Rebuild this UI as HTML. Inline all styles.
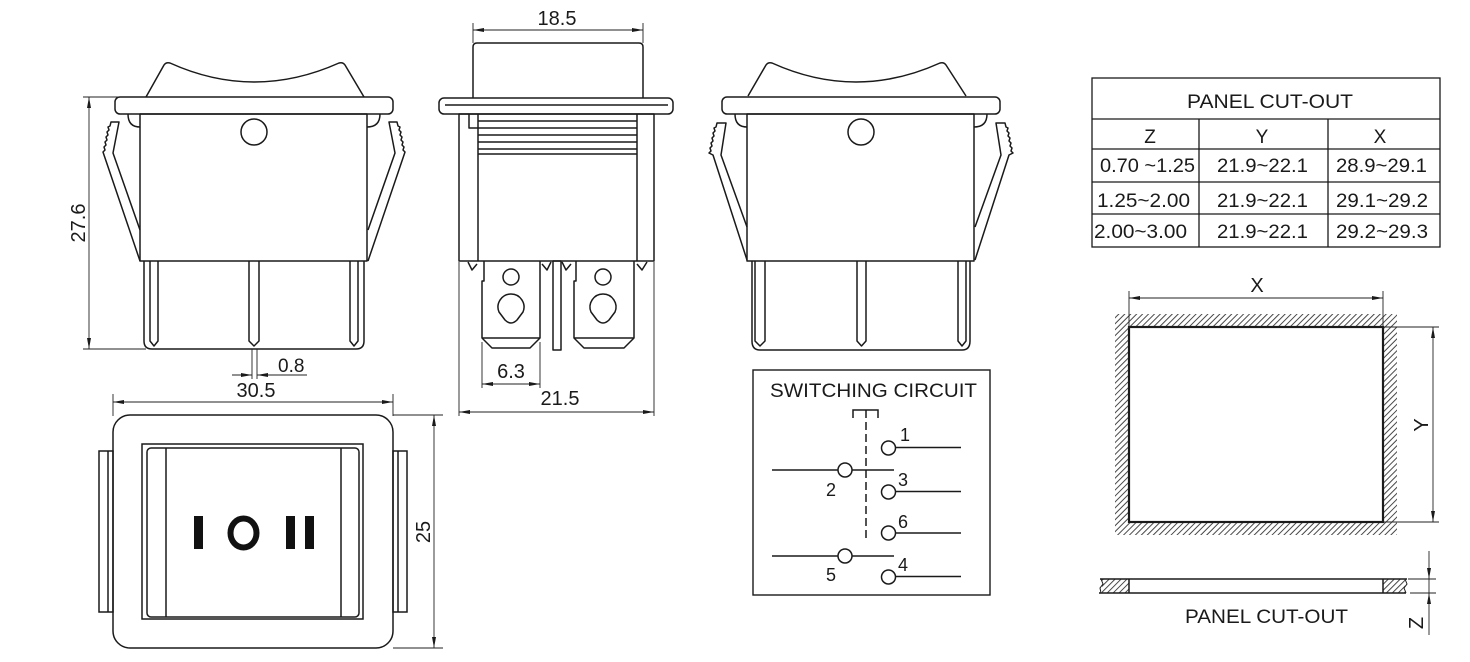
<!DOCTYPE html>
<html><head><meta charset="utf-8"><style>
html,body{margin:0;padding:0;background:#fff;}
svg{display:block;}
text{font-family:"Liberation Sans",Arial,sans-serif;fill:#1a1a1a;}
</style></head><body>
<svg width="1470" height="662" viewBox="0 0 1470 662" xmlns="http://www.w3.org/2000/svg">
<defs>
<marker id="a" viewBox="0 0 11 4" refX="11" refY="2" markerWidth="11" markerHeight="4" orient="auto-start-reverse" markerUnits="userSpaceOnUse"><path d="M0,0 L11,2 L0,4 Z" fill="#1a1a1a"/></marker>
<pattern id="h" patternUnits="userSpaceOnUse" width="4.2" height="4.2" patternTransform="rotate(45)"><line x1="1" y1="-1" x2="1" y2="6" stroke="#333" stroke-width="0.9"/></pattern>
</defs>
<rect width="1470" height="662" fill="#fff"/>

<!-- ============ LEFT FRONT VIEW ============ -->
<g fill="none" stroke="#1a1a1a" stroke-width="1.5" stroke-linejoin="round">
<path d="M146,97 L164,65 Q166,62 170,63 Q254,101 339,63 Q343,62 345,65 L364,97"/>
<rect x="115" y="97" width="278" height="17" rx="5"/>
<rect x="140" y="114" width="227" height="147"/>
<circle cx="254" cy="132" r="13"/>
<path d="M128,114 Q128,127 140,127 M380,114 Q380,127 367,127"/>
<path d="M140,230 L113,153 L119,122 L111,122 L110,126 L108,127 L109,130 L107,132 L108,135 L106,137 L107,140 L105,142 L106,145 L104,147 L105,150 L103,152 L104,155 L140,261"/>
<path d="M368,230 L395,153 L389,122 L397,122 L398,126 L400,127 L399,130 L401,132 L400,135 L402,137 L401,140 L403,142 L402,145 L404,147 L403,150 L405,152 L404,155 L368,261"/>
<path d="M144,261 V341 Q144,349 152,349 H356 Q364,349 364,341 V261"/>
<path d="M150,261 V341 L154,346 L158,341 V261 M249,261 V341 L254,346 L259,341 V261 M350,261 V341 L354,346 L358,341 V261"/>
</g>
<!-- dims left view -->
<g fill="none" stroke="#222" stroke-width="0.9">
<path d="M83,97 H118 M83,349 H146"/>
<path d="M89,97 V349" marker-start="url(#a)" marker-end="url(#a)"/>
<path d="M252,349 V379 M257,349 V379"/>
<path d="M232,375 H252" marker-end="url(#a)"/>
<path d="M307,375 H257" marker-end="url(#a)"/>
<path d="M113,394 V416 M393,394 V416"/>
<path d="M113,402 H393" marker-start="url(#a)" marker-end="url(#a)"/>
</g>
<text x="0" y="0" font-size="20" text-anchor="middle" transform="translate(85,223) rotate(-90)">27.6</text>
<text x="278" y="372" font-size="19">0.8</text>
<text x="256" y="397" font-size="20" text-anchor="middle">30.5</text>

<!-- ============ BOTTOM LEFT TOP VIEW ============ -->
<g fill="none" stroke="#1a1a1a" stroke-width="1.5">
<rect x="113" y="415" width="280" height="233" rx="17"/>
<rect x="142" y="444" width="221" height="175"/>
<rect x="147" y="448" width="212" height="169" rx="4"/>
<path d="M166,448 V617 M341,448 V617"/>
<rect x="99" y="451" width="14" height="161"/>
<path d="M108,451 V612"/>
<rect x="393" y="451" width="14" height="161"/>
<path d="M398,451 V612"/>
</g>
<g fill="#111">
<rect x="194" y="516" width="9" height="33"/>
<rect x="286" y="516" width="9" height="33"/>
<rect x="305" y="516" width="9" height="33"/>
</g>
<ellipse cx="243.5" cy="533" rx="13" ry="14.5" fill="none" stroke="#111" stroke-width="6"/>
<g fill="none" stroke="#222" stroke-width="0.9">
<path d="M393,415 H443 M393,648 H443"/>
<path d="M434,415 V648" marker-start="url(#a)" marker-end="url(#a)"/>
</g>
<text x="0" y="0" font-size="20" text-anchor="middle" transform="translate(430,532) rotate(-90)">25</text>

<!-- ============ MIDDLE SIDE VIEW ============ -->
<g fill="none" stroke="#1a1a1a" stroke-width="1.5" stroke-linejoin="round">
<path d="M473,98 V47 Q473,43 477,43 H639 Q643,43 643,47 V98"/>
<rect x="439" y="98" width="234" height="16" rx="5"/>
<path d="M445,105 H668"/>
<rect x="459" y="114" width="195" height="147"/>
<path d="M478,114 V261 M637,114 V261 M469,114 V128 H478"/>
<path d="M478,121 H637 M478,128 H637 M478,135 H637 M478,142 H637 M478,149 H637 M478,154 H637"/>
<path d="M468,262 L472,270 L477,264 M542,264 L547,270 L551,262 M562,262 L566,270 L571,264 M637,264 L642,270 L647,262"/>
<path d="M484,261 V281 H482 V338 L492,348 H530 L540,338 V261"/>
<path d="M482,338 H540"/>
<circle cx="511" cy="277" r="8"/>
<path d="M505,320 Q511,326 517,320 L523,312 A13,13 0 1,0 499,312 Z"/>
<path d="M576,261 V281 H574 V338 L584,348 H624 L634,338 V261"/>
<path d="M574,338 H634"/>
<circle cx="603" cy="277" r="8"/>
<path d="M597,320 Q603,326 609,320 L615,312 A13,13 0 1,0 591,312 Z"/>
<rect x="553" y="261" width="8" height="89"/>
</g>
<g fill="none" stroke="#222" stroke-width="0.9">
<path d="M473,23 V43 M643,23 V43"/>
<path d="M473,30 H643" marker-start="url(#a)" marker-end="url(#a)"/>
<path d="M482,342 V388 M540,342 V388"/>
<path d="M482,384 H540" marker-start="url(#a)" marker-end="url(#a)"/>
<path d="M459,262 V416 M654,262 V416"/>
<path d="M459,412 H654" marker-start="url(#a)" marker-end="url(#a)"/>
</g>
<text x="557" y="25" font-size="20" text-anchor="middle">18.5</text>
<text x="511" y="378" font-size="20" text-anchor="middle">6.3</text>
<text x="560" y="405" font-size="20" text-anchor="middle">21.5</text>

<!-- ============ RIGHT FRONT VIEW ============ -->
<g fill="none" stroke="#1a1a1a" stroke-width="1.5" stroke-linejoin="round">
<path d="M748,96 L766,65 Q768,62 772,63 Q856,101 940,63 Q944,62 946,65 L966,96"/>
</g>
<g fill="none" stroke="#1a1a1a" stroke-width="1.5" stroke-linejoin="round" transform="translate(607,0)">
<rect x="115" y="97" width="278" height="17" rx="5"/>
<rect x="140" y="114" width="227" height="147"/>
<circle cx="254" cy="132" r="13"/>
<path d="M128,114 Q128,127 140,127 M380,114 Q380,127 367,127"/>
<path d="M140,227 L114,155 L119,123 L110,123 L109,127 L107,128 L108,131 L106,133 L107,136 L105,138 L106,141 L104,143 L105,146 L103,148 L104,151 L102,153 L106,155 L140,260"/>
<path d="M368,227 L394,155 L389,123 L398,123 L399,127 L401,128 L400,131 L402,133 L401,136 L403,138 L402,141 L404,143 L403,146 L405,148 L404,151 L406,153 L402,155 L368,260"/>
<path d="M145,261 V341 Q145,350 153,350 H355 Q363,350 363,341 V261"/>
<path d="M148,261 V341 L153,346 L158,341 V261 M250,261 V341 L254.5,346 L259,341 V261 M351,261 V341 L355,346 L359,341 V261"/>
</g>

<!-- ============ SWITCHING CIRCUIT ============ -->
<rect x="753" y="370" width="237" height="225" fill="none" stroke="#1a1a1a" stroke-width="1.4"/>
<text x="770" y="397" font-size="19" textLength="207" lengthAdjust="spacingAndGlyphs">SWITCHING CIRCUIT</text>
<g fill="none" stroke="#1a1a1a" stroke-width="1.5">
<path d="M853,418 V410 H878 V418"/>
<path d="M866,410 V542" stroke-dasharray="8,4"/>
<circle cx="888.5" cy="448" r="7"/>
<path d="M895.5,447.5 H961"/>
<circle cx="845" cy="470" r="7"/>
<path d="M772,470 H838 M852,470 H894"/>
<circle cx="888.5" cy="492" r="7"/>
<path d="M895.5,491.5 H961"/>
<circle cx="888.5" cy="533" r="7"/>
<path d="M895.5,533 H961"/>
<circle cx="845" cy="556" r="7"/>
<path d="M772,556 H838 M852,556 H894"/>
<circle cx="888.5" cy="577" r="7"/>
<path d="M895.5,576.5 H961"/>
</g>
<g font-size="18">
<text x="900" y="441">1</text>
<text x="826" y="496">2</text>
<text x="898" y="486">3</text>
<text x="898" y="528">6</text>
<text x="826" y="581">5</text>
<text x="898" y="571">4</text>
</g>

<!-- ============ TABLE ============ -->
<g fill="none" stroke="#1a1a1a" stroke-width="1.3">
<rect x="1092" y="78" width="348" height="169"/>
<path d="M1092,119 H1440 M1092,149 H1440 M1092,182 H1440 M1092,214 H1440"/>
<path d="M1199,119 V247 M1328,119 V247"/>
</g>
<g font-size="19">
<text x="1187" y="108" textLength="166" lengthAdjust="spacingAndGlyphs">PANEL CUT-OUT</text>
<text x="1150" y="143" text-anchor="middle">Z</text>
<text x="1262" y="143" text-anchor="middle">Y</text>
<text x="1380" y="143" text-anchor="middle">X</text>
<text x="1100" y="172" textLength="95" lengthAdjust="spacingAndGlyphs">0.70 ~1.25</text>
<text x="1217" y="172" textLength="91" lengthAdjust="spacingAndGlyphs">21.9~22.1</text>
<text x="1336" y="172" textLength="91" lengthAdjust="spacingAndGlyphs">28.9~29.1</text>
<text x="1097" y="207" textLength="93" lengthAdjust="spacingAndGlyphs">1.25~2.00</text>
<text x="1217" y="207" textLength="91" lengthAdjust="spacingAndGlyphs">21.9~22.1</text>
<text x="1336" y="207" textLength="92" lengthAdjust="spacingAndGlyphs">29.1~29.2</text>
<text x="1094" y="238" textLength="93" lengthAdjust="spacingAndGlyphs">2.00~3.00</text>
<text x="1217" y="238" textLength="91" lengthAdjust="spacingAndGlyphs">21.9~22.1</text>
<text x="1336" y="238" textLength="92" lengthAdjust="spacingAndGlyphs">29.2~29.3</text>
</g>

<!-- ============ PANEL CUT-OUT ============ -->
<path d="M1115,314 H1397 V535 H1115 Z M1129,327 H1383 V522 H1129 Z" fill="url(#h)" fill-rule="evenodd"/>
<rect x="1129" y="327" width="254" height="195" fill="#fff" stroke="#1a1a1a" stroke-width="2.2"/>
<g fill="none" stroke="#222" stroke-width="0.9">
<path d="M1129,291 V327 M1383,291 V327"/>
<path d="M1129,298 H1383" marker-start="url(#a)" marker-end="url(#a)"/>
<path d="M1383,327 H1439 M1383,522 H1439"/>
<path d="M1433,327 V522" marker-start="url(#a)" marker-end="url(#a)"/>
</g>
<text x="1257" y="292" font-size="20" text-anchor="middle">X</text>
<text x="0" y="0" font-size="20" text-anchor="middle" transform="translate(1428,425) rotate(-90)">Y</text>

<!-- cross section -->
<rect x="1102" y="579" width="27" height="14" fill="url(#h)"/>
<rect x="1383" y="579" width="22" height="14" fill="url(#h)"/>
<g fill="none" stroke="#1a1a1a" stroke-width="1.5">
<path d="M1100,579 H1407 M1099,593 H1406"/>
<path d="M1129,579 V593 M1383,579 V593"/>
<path d="M1101,579 L1103,584 L1100,588 L1101,593 M1405,579 L1407,584 L1404,588 L1406,593" stroke-width="1"/>
</g>
<g fill="none" stroke="#222" stroke-width="0.9">
<path d="M1408,579 H1436 M1410,593 H1436"/>
<path d="M1429,551 V579" marker-end="url(#a)"/>
<path d="M1429,635 V593" marker-end="url(#a)"/>
<path d="M1429,579 V593"/>
</g>
<text x="0" y="0" font-size="20" text-anchor="middle" transform="translate(1423,623) rotate(-90)">Z</text>
<text x="1185" y="623" font-size="19" textLength="163" lengthAdjust="spacingAndGlyphs">PANEL CUT-OUT</text>
</svg>
</body></html>
